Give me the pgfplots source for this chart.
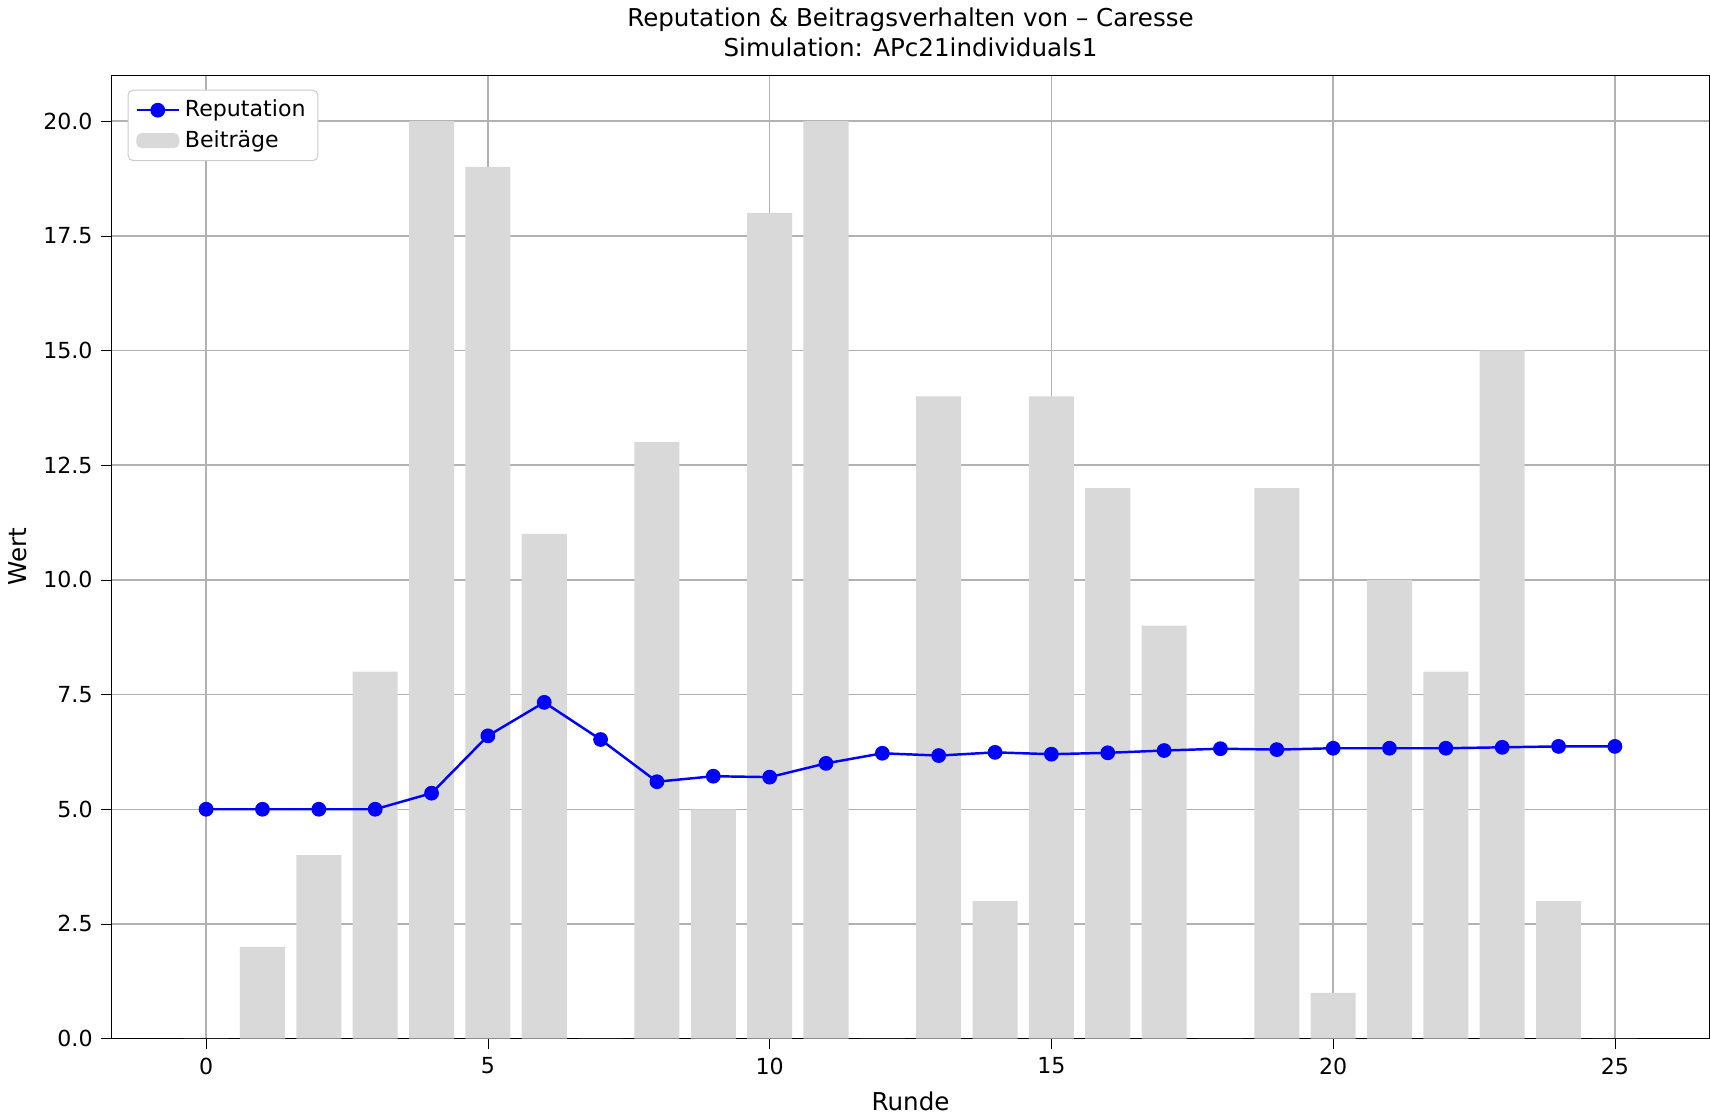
\documentclass[border=0pt]{standalone}
\usepackage{pgfplots}
\pgfplotsset{compat=1.18}
\usepackage{fontspec}
\setmainfont{DejaVu Sans}
\begin{document}
\begin{tikzpicture}
\begin{axis}[
  width=650pt, height=392pt, scale only axis,
  xmin=-1.675, xmax=26.675, ymin=0, ymax=21,
  xtick={0,5,...,25}, ytick={0,2.5,...,20},
  xtick pos=bottom, ytick pos=left,
  yticklabel style={/pgf/number format/.cd,fixed,fixed zerofill,precision=1},
  /pgf/number format/assume math mode=true,
  ticklabel style={font=\small},
  grid=major, grid style={gray!60, line width=0.6pt},
  tick align=outside, tick style={black},
  xlabel={Runde}, ylabel={Wert},
  title style={align=center, yshift=-2pt},
  title={Reputation \& Beitragsverhalten von – Caresse\\Simulation: APc21individuals1},
  legend pos=north west, legend cell align=left,
  legend style={draw=gray!40, rounded corners=2pt, font=\small, at={(0.01,0.985)}, anchor=north west},
]
\addplot[ybar, bar width=0.8, fill=gray!30, draw=none, forget plot] coordinates {
(0,0)(1,2)(2,4)(3,8)(4,20)(5,19)(6,11)(7,0)(8,13)(9,5)(10,18)(11,20)(12,0)(13,14)(14,3)(15,14)(16,12)(17,9)(18,0)(19,12)(20,1)(21,10)(22,8)(23,15)(24,3)(25,0)};
\addplot[blue, line width=1pt, mark=*, mark size=2.5pt] coordinates {
(0,5)(1,5)(2,5)(3,5)(4,5.35)(5,6.6)(6,7.33)(7,6.52)(8,5.6)(9,5.72)(10,5.7)(11,6.0)(12,6.22)(13,6.17)(14,6.24)(15,6.2)(16,6.23)(17,6.28)(18,6.32)(19,6.3)(20,6.33)(21,6.33)(22,6.33)(23,6.35)(24,6.37)(25,6.37)};
\addlegendentry{Reputation}
\addlegendimage{legend image code/.code={\fill[gray!30] (0cm,-0.1cm) rectangle (0.6cm,0.1cm);}}
\addlegendentry{Beiträge}
\end{axis}
\end{tikzpicture}
\end{document}
